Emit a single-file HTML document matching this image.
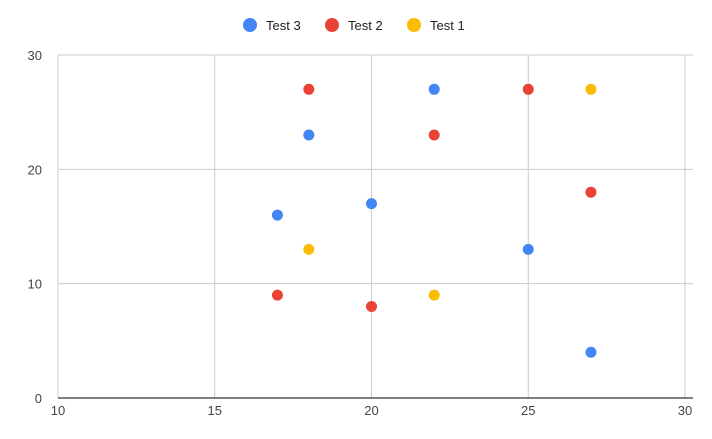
<!DOCTYPE html>
<html><head><meta charset="utf-8"><style>
body{margin:0;background:#fff;font-family:"Liberation Sans",Arial,sans-serif;}
</style></head><body>
<svg id="chart" width="712" height="434" xmlns="http://www.w3.org/2000/svg">
<g id="grid"></g><g id="axes"></g><g id="marks"></g><g id="legend"></g>
</svg>
<script>
const xTicks=[10,15,20,25,30];
const yTicks=[0,10,20,30];
const seriesNames=["Test 3","Test 2","Test 1"];
const seriesColors=["#4285f4","#ea4335","#fbbc04"];
const test3X=[17,18,20,22,25,27];
const test3Y=[16,23,17,27,13,4];
const test2X=[18,17,20,22,25,27];
const test2Y=[27,9,8,23,27,18];
const test1X=[18,22,27];
const test1Y=[13,9,27];
const seriesX=[test3X,test2X,test1X];
const seriesY=[test3Y,test2Y,test1Y];

const NS="http://www.w3.org/2000/svg";
const L=58,R=685,T=55,B=398;
const sx=v=>L+(v-10)/(30-10)*(R-L);
const sy=v=>B-(v-0)/(30-0)*(B-T);
function mk(tag,attrs,parent){const e=document.createElementNS(NS,tag);for(const k in attrs)e.setAttribute(k,attrs[k]);parent.appendChild(e);return e;}
const grid=document.getElementById('grid'),axes=document.getElementById('axes'),marks=document.getElementById('marks'),legend=document.getElementById('legend');
xTicks.forEach(t=>{
  const l=mk('line',{x1:sx(t),x2:sx(t),y1:T,y2:B,stroke:'#cccccc','stroke-width':1},grid);
  
  
  const tx=mk('text',{x:sx(t),y:B+17,'text-anchor':'middle','font-size':13,fill:'#444'},axes);
  tx.textContent=t;
  
  
});
yTicks.forEach(t=>{
  if(t!==0){const l=mk('line',{x1:L,x2:R+8,y1:sy(t),y2:sy(t),stroke:'#cccccc','stroke-width':1},grid);
  
  }
  const tx=mk('text',{x:L-16,y:sy(t)+5,'text-anchor':'end','font-size':13,fill:'#444'},axes);
  tx.textContent=t;
  
  
});
const base=mk('line',{x1:L,x2:R+8,y1:B,y2:B,stroke:'#000','stroke-width':1},axes);


seriesX.forEach((xs,s)=>{
  xs.forEach((xv,i)=>{
    const c=mk('circle',{cx:sx(xv),cy:sy(seriesY[s][i]),r:5.5,fill:seriesColors[s]},marks);
    
    
  });
});
const legX=[250,332,414];
seriesNames.forEach((n,i)=>{
  const g=mk('g',{},legend);
  
  
  mk('circle',{cx:legX[i],cy:25,r:7,fill:seriesColors[i]},g);
  const t=mk('text',{x:legX[i]+16,y:30,'font-size':13,fill:'#222'},g);
  t.textContent=n;
});
</script>
</body></html>
